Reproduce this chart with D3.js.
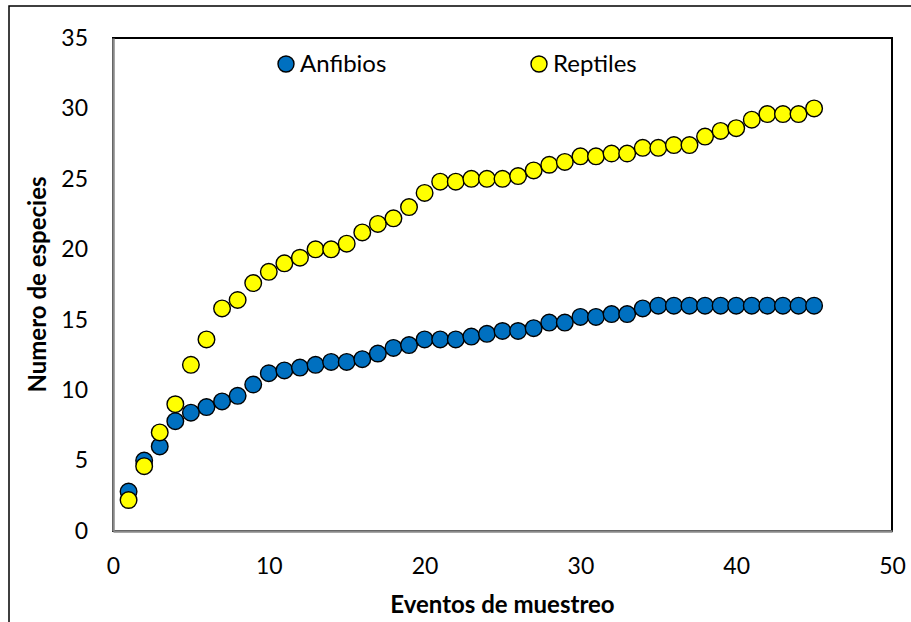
<!DOCTYPE html>
<html>
<head>
<meta charset="utf-8">
<script src="https://cdn.jsdelivr.net/npm/d3@7/dist/d3.min.js"></script>
<style>
  html, body { margin: 0; padding: 0; background: #fff; }
  svg { display: block; font-family: Lato, "Open Sans", "DejaVu Sans", sans-serif; }
</style>
</head>
<body>
<svg id="chart" width="911" height="622"></svg>
<script>
// Sampling events (x) and accumulated species counts per group
const eventos = d3.range(1, 46);
const anfibios = [2.8, 5.0, 6.0, 7.8, 8.4, 8.8, 9.2, 9.6, 10.4, 11.2,
  11.4, 11.6, 11.8, 12.0, 12.0, 12.2, 12.6, 13.0, 13.2, 13.6,
  13.6, 13.6, 13.8, 14.0, 14.2, 14.2, 14.4, 14.8, 14.8, 15.2,
  15.2, 15.4, 15.4, 15.8, 16.0, 16.0, 16.0, 16.0, 16.0, 16.0,
  16.0, 16.0, 16.0, 16.0, 16.0];
const reptiles = [2.2, 4.6, 7.0, 9.0, 11.8, 13.6, 15.8, 16.4, 17.6, 18.4,
  19.0, 19.4, 20.0, 20.0, 20.4, 21.2, 21.8, 22.2, 23.0, 24.0,
  24.8, 24.8, 25.0, 25.0, 25.0, 25.2, 25.6, 26.0, 26.2, 26.6,
  26.6, 26.8, 26.8, 27.2, 27.2, 27.4, 27.4, 28.0, 28.4, 28.6,
  29.2, 29.6, 29.6, 29.6, 30.0];
const xTicks = [0, 10, 20, 30, 40, 50];
const yTicks = [0, 5, 10, 15, 20, 25, 30, 35];
const seriesNames = ["Anfibios", "Reptiles"];
const seriesColors = ["#0070C0", "#FFFF00"];

const svg = d3.select("#chart");
const W = 911, H = 622;
const plot = { left: 113, top: 38, right: 892, bottom: 531 };

// Outer chart frame
svg.append("rect")
  .attr("x", 9).attr("y", 6)
  .attr("width", W + 10).attr("height", H + 10)
  .attr("fill", "#fff").attr("stroke", "#000").attr("stroke-width", 1.5);

const x = d3.scaleLinear().domain([0, 50]).range([plot.left, plot.right]);
const y = d3.scaleLinear().domain([0, 35]).range([plot.bottom, plot.top]);

// Plot area border (top/right black)
svg.append("rect")
  .attr("x", plot.left).attr("y", plot.top)
  .attr("width", plot.right - plot.left).attr("height", plot.bottom - plot.top)
  .attr("fill", "none").attr("stroke", "#000").attr("stroke-width", 2);

// Axes
const xAxis = svg.append("g")
  .attr("transform", `translate(0,${plot.bottom})`)
  .call(d3.axisBottom(x).tickValues(xTicks).tickSize(0).tickPadding(27));
const yAxis = svg.append("g")
  .attr("transform", `translate(${plot.left},0)`)
  .call(d3.axisLeft(y).tickValues(yTicks).tickSize(0).tickPadding(25));

[xAxis, yAxis].forEach(g => {
  g.select(".domain").attr("stroke", "#898989").attr("stroke-width", 2.5);
  g.selectAll("text").attr("font-size", 23).attr("fill", "#000")
    .attr("font-family", 'Lato, "Open Sans", sans-serif');
});

// Axis titles
svg.append("text")
  .attr("x", (plot.left + plot.right) / 2).attr("y", 613)
  .attr("text-anchor", "middle").attr("font-size", 24).attr("font-weight", "bold")
  .text("Eventos de muestreo");
svg.append("text")
  .attr("transform", `translate(46,${(plot.top + plot.bottom) / 2}) rotate(-90)`)
  .attr("text-anchor", "middle").attr("font-size", 24).attr("font-weight", "bold")
  .text("Numero de especies");

// Data points
const seriesData = [anfibios, reptiles];
seriesData.forEach((vals, si) => {
  svg.append("g").selectAll("circle")
    .data(eventos.map((e, i) => ({ e, v: vals[i] })))
    .join("circle")
    .attr("cx", d => x(d.e))
    .attr("cy", d => y(d.v))
    .attr("r", 8.3)
    .attr("fill", seriesColors[si])
    .attr("stroke", "#000").attr("stroke-width", 1.4);
});

// Legend
const legendPos = [{ cx: 286, tx: 300 }, { cx: 539, tx: 553 }];
seriesNames.forEach((name, i) => {
  svg.append("circle")
    .attr("cx", legendPos[i].cx).attr("cy", 64).attr("r", 8)
    .attr("fill", seriesColors[i]).attr("stroke", "#000").attr("stroke-width", 1.4);
  svg.append("text")
    .attr("x", legendPos[i].tx).attr("y", 72)
    .attr("font-size", 24).text(name);
});
</script>
</body>
</html>
